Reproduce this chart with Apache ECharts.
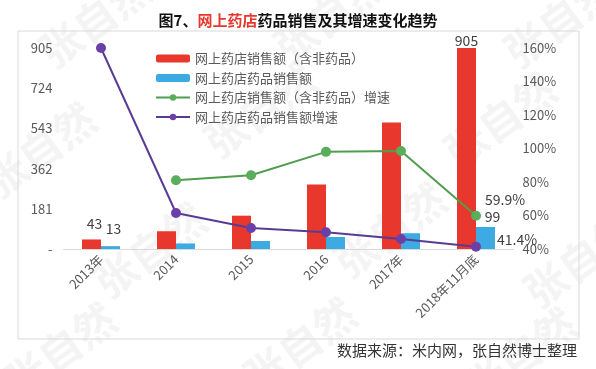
<!DOCTYPE html>
<html>
<head>
<meta charset="utf-8">
<script src="https://cdn.jsdelivr.net/npm/echarts@6/dist/echarts.min.js"></script>
<style>
html,body{margin:0;padding:0;background:#fff;}
#chart{width:596px;height:369px;}
</style>
</head>
<body>
<div id="chart"></div>
<script>
var categories = ['2013年', '2014', '2015', '2016', '2017年', '2018年11月底'];
var salesAll = [43, 80, 150, 290, 570, 905];
var salesDrug = [13, 25, 36, 54, 71, 99];
var growthAll = [null, 81, 84, 98, 98.5, 59.9];
var growthDrug = [160, 61.5, 52.5, 50, 46, 41.4];
var leftTicks = [0, 181, 362, 543, 724, 905];
var seriesNames = ['网上药店销售额（含非药品）', '网上药店药品销售额', '网上药店销售额（含非药品）增速', '网上药店药品销售额增速'];

var chart = echarts.init(document.getElementById('chart'));
var font = '"Noto Sans CJK SC", "Noto Sans", sans-serif';
var labelStyle = {show: true, color: '#404040', fontSize: 14, fontFamily: font};

function withLabels(arr, idxMap) {
  return arr.map(function (v, i) {
    if (idxMap[i]) return {value: v, label: Object.assign({}, labelStyle, idxMap[i])};
    return v;
  });
}

var watermarks = [];
var wmPos = [[95,20],[330,15],[560,20],[40,150],[260,110],[500,120],[150,250],[390,230],[580,260],[60,350],[300,345],[520,355]];
wmPos.forEach(function (p) {
  watermarks.push({
    type: 'text', x: p[0], y: p[1], rotation: Math.PI / 5, silent: true, z: -10,
    style: {text: '张自然', fill: 'rgba(170,170,170,0.13)', font: 'bold 42px ' + font, align: 'center', verticalAlign: 'middle'}
  });
});

var option = {
  backgroundColor: '#fff',
  animation: false,
  textStyle: {fontFamily: font},
  title: {
    text: '{b|图7、}{r|网上药店}{b|药品销售及其增速变化趋势}',
    left: 'center', top: 8,
    textStyle: {
      rich: {
        b: {fontSize: 15, fontWeight: 'bold', color: '#111', fontFamily: font},
        r: {fontSize: 15, fontWeight: 'bold', color: '#e8372c', fontFamily: font}
      }
    }
  },
  legend: {
    orient: 'vertical', left: 150, top: 47, itemWidth: 34, itemHeight: 8, itemGap: 6.5,
    textStyle: {color: '#595959', fontSize: 13, fontFamily: font},
    data: seriesNames
  },
  graphic: watermarks.concat([
    {type: 'rect', shape: {x: 18, y: 31, width: 561, height: 308}, style: {fill: 'none', stroke: '#d9d9d9', lineWidth: 1}, silent: true},
    {type: 'text', right: 19, top: 343, style: {text: '数据来源：米内网，张自然博士整理', fill: '#333', font: '15px ' + font}}
  ]),
  grid: {left: 63.5, right: 82.5, top: 48, bottom: 120},
  xAxis: {
    type: 'category', data: categories,
    axisLine: {lineStyle: {color: '#d9d9d9'}},
    axisTick: {show: false},
    axisLabel: {rotate: 45, interval: 0, color: '#595959', fontSize: 13, margin: 8, fontFamily: font}
  },
  yAxis: [
    {
      type: 'value', min: 0, max: 905, interval: 181,
      splitLine: {show: false}, axisLine: {show: false}, axisTick: {show: false},
      axisLabel: {color: '#595959', fontSize: 13, margin: 11, fontFamily: font,
        formatter: function (v) { return v === 0 ? '-' : String(v); }}
    },
    {
      type: 'value', min: 40, max: 160, interval: 20,
      splitLine: {show: false}, axisLine: {show: false}, axisTick: {show: false},
      axisLabel: {color: '#595959', fontSize: 13, margin: 9, fontFamily: font, formatter: '{value}%'}
    }
  ],
  series: [
    {
      name: seriesNames[0], type: 'bar', yAxisIndex: 0, barWidth: 19, barGap: '0%',
      itemStyle: {color: '#e8372c'},
      data: withLabels(salesAll, {0: {position: 'top', distance: 9, offset: [3, 0]}, 5: {position: 'top', distance: 0}})
    },
    {
      name: seriesNames[1], type: 'bar', yAxisIndex: 0, barWidth: 19,
      itemStyle: {color: '#3eaae3'},
      data: withLabels(salesDrug, {0: {position: 'top', distance: 10, offset: [3, 0]}, 5: {position: 'top', distance: 3, offset: [7, 0]}})
    },
    {
      name: seriesNames[2], type: 'line', yAxisIndex: 1, symbol: 'circle', symbolSize: 10,
      lineStyle: {color: '#4f9e4f', width: 2}, itemStyle: {color: '#5aad5a'},
      data: withLabels(growthAll, {5: {position: 'right', distance: 4, offset: [0, -16], formatter: '{c}%'}})
    },
    {
      name: seriesNames[3], type: 'line', yAxisIndex: 1, symbol: 'circle', symbolSize: 10,
      lineStyle: {color: '#5a3b94', width: 2}, itemStyle: {color: '#6a40a8'},
      data: withLabels(growthDrug, {5: {position: 'right', distance: 16, offset: [0, -7], formatter: '{c}%'}})
    }
  ]
};
chart.setOption(option);
</script>
</body>
</html>
